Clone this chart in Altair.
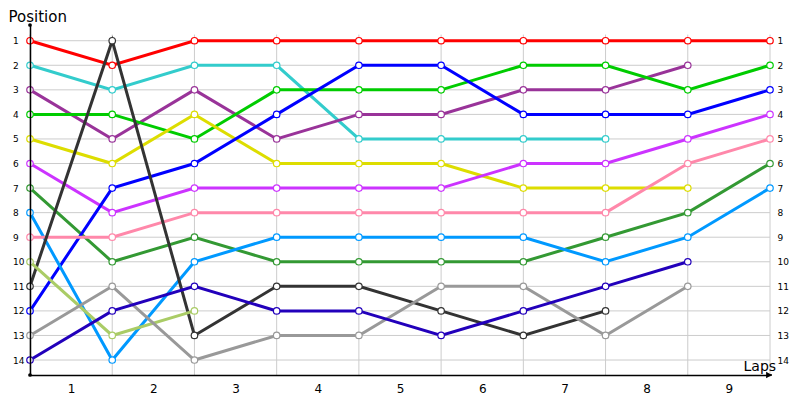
import altair as alt
import pandas as pd

# ---- data ----
drivers = ["Car A", "Car B", "Car C", "Car D", "Car E", "Car F", "Car G",
           "Car H", "Car I", "Car J", "Car K", "Car L", "Car M", "Car N"]
colors = ["#ff0000", "#33cccc", "#993399", "#00cc00", "#dddd00", "#cc33ff", "#339933",
          "#0000ff", "#0099ff", "#ff88aa", "#333333", "#aacc66", "#999999", "#2200bb"]
positions = [
    [1, 2, 1, 1, 1, 1, 1, 1, 1, 1],
    [2, 3, 2, 2, 5, 5, 5, 5],
    [3, 5, 3, 5, 4, 4, 3, 3, 2],
    [4, 4, 5, 3, 3, 3, 2, 2, 3, 2],
    [5, 6, 4, 6, 6, 6, 7, 7, 7],
    [6, 8, 7, 7, 7, 7, 6, 6, 5, 4],
    [7, 10, 9, 10, 10, 10, 10, 9, 8, 6],
    [12, 7, 6, 4, 2, 2, 4, 4, 4, 3],
    [8, 14, 10, 9, 9, 9, 9, 10, 9, 7],
    [9, 9, 8, 8, 8, 8, 8, 8, 6, 5],
    [11, 1, 13, 11, 11, 12, 13, 12],
    [10, 13, 12],
    [13, 11, 14, 13, 13, 11, 11, 13, 11],
    [14, 12, 11, 12, 12, 13, 12, 11, 10],
]
lap_labels = ["1", "2", "3", "4", "5", "6", "7", "8", "9"]
lap_tick_values = [0.5, 1.5, 2.5, 3.5, 4.5, 5.5, 6.5, 7.5, 8.5]
pos_ticks = list(range(1, 15))
grid_x = list(range(0, 10))

rows = []
for k, (d, ps) in enumerate(zip(drivers, positions)):
    for i, p in enumerate(ps):
        rows.append({"driver": d, "idx": i, "pos": p, "ord": k})
df = pd.DataFrame(rows)

hgrid = pd.DataFrame({"pos": pos_ticks, "x0": 0, "x1": 9})
vgrid = pd.DataFrame({"idx": grid_x, "y0": 0.75, "y1": 14.61})

xs = alt.Scale(domain=[0, 9], nice=False, zero=False)
ys = alt.Scale(domain=[0.36, 14.61], reverse=True, nice=False, zero=False)
cs = alt.Scale(domain=drivers, range=colors)
FONT = "DejaVu Sans"

label_expr = "[" + ",".join("'%s'" % s for s in lap_labels) + "][round(datum.value - 0.5)]"
xaxis = alt.Axis(
    values=lap_tick_values, labelExpr=label_expr,
    ticks=False, grid=False, domainColor="#000000", domainWidth=1.5, zindex=1,
    labelFont=FONT, labelFontSize=12, labelColor="#000000", labelPadding=8,
    labelBaseline="top",
    title="Laps", titleFont=FONT, titleFontSize=14, titleFontWeight="normal",
    titleColor="#000000", titleX=713, titleY=-5, titleAlign="left",
    titleBaseline="alphabetic")

hg = alt.Chart(hgrid).mark_rule(color="#cccccc", strokeWidth=1).encode(
    x=alt.X("x0:Q", scale=xs, axis=xaxis),
    x2="x1:Q",
    y=alt.Y("pos:Q", scale=ys, axis=alt.Axis(
        orient="right", values=pos_ticks, ticks=False, domain=False, grid=False,
        labelAlign="left", labelBaseline="middle", labelPadding=7,
        labelFont=FONT, labelFontSize=9, labelColor="#000000", title=None)),
)

vg = alt.Chart(vgrid).mark_rule(color="#cccccc", strokeWidth=1).encode(
    x=alt.X("idx:Q", scale=xs, axis=xaxis),
    y=alt.Y("y0:Q", scale=ys, axis=None),
    y2="y1:Q",
)

lines = alt.Chart(df).mark_line(strokeWidth=3).encode(
    x=alt.X("idx:Q", scale=xs, axis=xaxis),
    y=alt.Y("pos:Q", scale=ys, axis=alt.Axis(
        orient="left", values=pos_ticks, ticks=False, grid=False, zindex=1,
        domainColor="#000000", domainWidth=1.5,
        labelAlign="left", labelBaseline="middle", labelPadding=17.5,
        labelFont=FONT, labelFontSize=9, labelColor="#000000",
        title="Position", titleFont=FONT, titleFontSize=15, titleFontWeight="normal",
        titleColor="#000000", titleAngle=0, titleX=-22, titleY=-4,
        titleAlign="left", titleBaseline="alphabetic")),
    color=alt.Color("driver:N", scale=cs, legend=None),
    order=alt.Order("idx:Q"),
    detail="driver:N",
)

pts = alt.Chart(df).mark_point(shape="circle", filled=True, fill="white",
                               size=42, strokeWidth=1.2, opacity=1).encode(
    x=alt.X("idx:Q", scale=xs, axis=xaxis),
    y=alt.Y("pos:Q", scale=ys, axis=None),
    stroke=alt.Stroke("driver:N", scale=cs, legend=None),
)

one = pd.DataFrame({"a": [1]})
dot_top = alt.Chart(one).mark_point(shape="circle", filled=True, color="black",
                                    size=14, opacity=1).encode(
    x=alt.value(0), y=alt.value(0))
dot_bot = alt.Chart(one).mark_point(shape="circle", filled=True, color="black",
                                    size=14, opacity=1).encode(
    x=alt.value(0), y=alt.value(350))
ext = alt.Chart(one).mark_rule(color="black", strokeWidth=1.5).encode(
    x=alt.value(738), x2=alt.value(742), y=alt.value(350))
arrow = alt.Chart(one).mark_point(
    shape="triangle-right", filled=True, color="black", size=45, opacity=1).encode(
    x=alt.value(739), y=alt.value(350))

chart = alt.layer(hg, vg, lines, pts, dot_top, dot_bot, ext, arrow).resolve_axis(
    y="independent"
).properties(
    width=740, height=350,
    padding={"left": 22, "top": 17, "right": 22, "bottom": 22},
    autosize=alt.AutoSizeParams(type="none"),
).configure_view(stroke=None)

chart.save("out.html", embed_options={"renderer": "svg", "actions": False})
